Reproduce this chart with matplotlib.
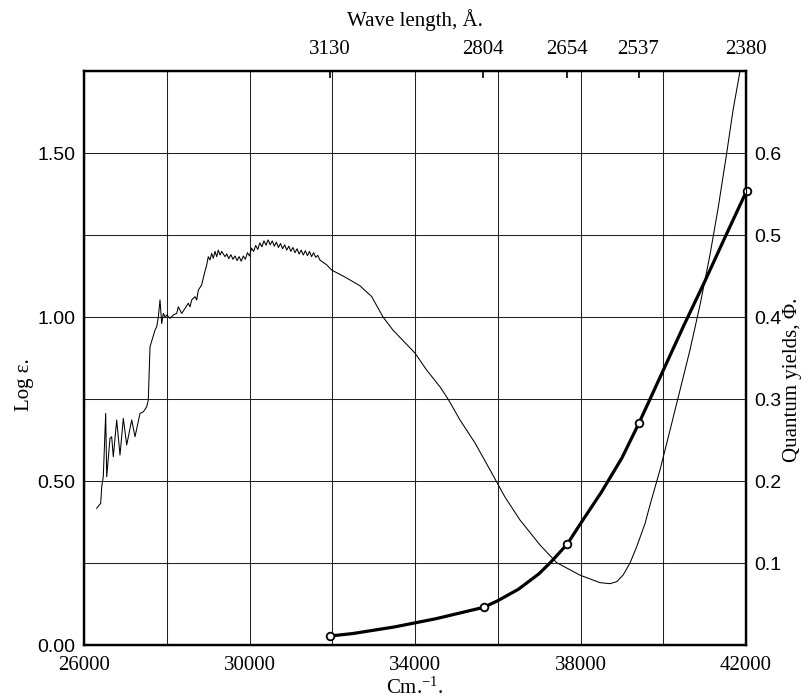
import matplotlib
matplotlib.use("Agg")
import matplotlib.pyplot as plt

plt.rcParams['font.family'] = ['Liberation Serif', 'DejaVu Serif']
plt.rcParams['mathtext.fontset'] = 'custom'
plt.rcParams['mathtext.rm'] = 'Liberation Serif'
plt.rcParams['mathtext.it'] = 'Liberation Serif:italic'

# Absorption spectrum (log epsilon vs wave number, cm^-1)
abs_wn = [26307, 26404, 26428, 26466, 26524, 26549, 26628, 26669, 26708, 26790,
          26870, 26950, 27032, 27153, 27233, 27353, 27433, 27515, 27554,
          27595, 27716, 27757, 27796, 27837, 27878, 27917, 27958, 27999, 28079,
          28158, 28240, 28279, 28361, 28441, 28521, 28562, 28603, 28683, 28724,
          28763, 28845, 28900, 28966, 29004, 29045, 29086, 29125, 29166, 29207,
          29246, 29287, 29328, 29408,
          29450, 29500, 29550, 29600, 29650, 29700, 29750, 29800, 29850, 29900,
          29950, 30000, 30050, 30100, 30150, 30200, 30250, 30300, 30350, 30400,
          30450, 30500, 30550, 30600, 30650, 30700, 30750, 30800, 30850, 30900,
          30950, 31000, 31050, 31100, 31150, 31200, 31250, 31300, 31350, 31400,
          31450, 31500, 31550, 31600, 31650, 31700,
          31866, 31987, 32260, 32429, 32671, 32954, 33227, 33468, 34000, 34283,
          34605, 34798, 35088, 35450, 35813, 36175, 36538, 37021, 37425, 37988,
          38472, 38713, 38875, 39028, 39197, 39359, 39559, 39680, 39922, 40164,
          40405, 40647, 40889, 41130, 41324, 41534, 41686, 41856]
abs_loge = [0.417, 0.432, 0.483, 0.513, 0.706, 0.513, 0.630, 0.635, 0.574, 0.686,
            0.579, 0.691, 0.610, 0.686, 0.635, 0.706, 0.711, 0.726, 0.747,
            0.909, 0.960, 0.970, 1.000, 1.052, 0.980, 1.011, 1.000, 1.006, 0.996,
            1.006, 1.011, 1.031, 1.011, 1.026, 1.042, 1.031, 1.052, 1.062, 1.052,
            1.082, 1.098, 1.128, 1.159, 1.184, 1.174, 1.194, 1.179, 1.200, 1.184,
            1.204, 1.189, 1.200, 1.184,
            1.192, 1.178, 1.190, 1.176, 1.186, 1.172, 1.184, 1.170, 1.186, 1.176,
            1.196, 1.186, 1.210, 1.200, 1.218, 1.206, 1.226, 1.214, 1.232, 1.219,
            1.235, 1.220, 1.232, 1.216, 1.228, 1.212, 1.224, 1.208, 1.220, 1.204,
            1.216, 1.200, 1.212, 1.196, 1.208, 1.192, 1.204, 1.189, 1.202, 1.187,
            1.200, 1.184, 1.196, 1.182, 1.188, 1.174,
            1.159, 1.143, 1.125, 1.113, 1.095, 1.062, 1.000, 0.960, 0.890, 0.838,
            0.787, 0.750, 0.686, 0.616, 0.534, 0.451, 0.381, 0.305, 0.251, 0.213,
            0.190, 0.187, 0.193, 0.213, 0.250, 0.300, 0.370, 0.427, 0.534, 0.655,
            0.777, 0.900, 1.037, 1.190, 1.330, 1.500, 1.630, 1.750]

# Quantum yields at the measured wave lengths
wavelengths = [3130, 2804, 2654, 2537, 2380]
qy_points = [0.011, 0.046, 0.123, 0.271, 0.554]

# Smooth quantum-yield curve as drawn
qy_curve_wn = [31949, 32500, 33000, 33500, 34000, 34500, 35000, 35663, 36000,
               36500, 37000, 37300, 37679, 38000, 38500, 39000, 39417, 40000,
               40500, 41000, 41500, 42017]
qy_curve = [0.011, 0.014, 0.018, 0.022, 0.027, 0.032, 0.038, 0.046, 0.054,
            0.068, 0.087, 0.102, 0.123, 0.148, 0.186, 0.228, 0.271, 0.335,
            0.390, 0.443, 0.498, 0.554]

x_ticks = [26000, 28000, 30000, 32000, 34000, 36000, 38000, 40000, 42000]
x_labels = ['26000', '', '30000', '', '34000', '', '38000', '', '42000']
y_ticks = [0.0, 0.25, 0.5, 0.75, 1.0, 1.25, 1.5]
y_labels = ['0.00', '', '0.50', '', '1.00', '', '1.50']
qy_ticks = [0.1, 0.2, 0.3, 0.4, 0.5, 0.6]
qy_labels = ['0.1', '0.2', '0.3', '0.4', '0.5', '0.6']

fig = plt.figure(figsize=(8.09, 6.98), dpi=100)
ax = fig.add_axes([84/809, 1 - 645/698, (746-84)/809, (645-71)/698])
ax.set_xlim(26000, 42000)
ax.set_ylim(0, 1.75)
ax.set_xticks(x_ticks)
ax.set_xticklabels(x_labels, fontsize=15)
ax.set_yticks(y_ticks)
ax.set_yticklabels(y_labels, fontsize=14, family=['Liberation Sans', 'DejaVu Sans'])
ax.tick_params(axis='x', length=0, pad=8)
ax.tick_params(axis='y', length=0, pad=6)
ax.grid(True, color='#222222', linewidth=0.75)
for s in ax.spines.values():
    s.set_linewidth(1.6)

ax.plot(abs_wn, abs_loge, color='black', linewidth=0.75, zorder=3)

ax2 = ax.twinx()
ax2.set_ylim(0, 0.7)
ax2.set_yticks(qy_ticks)
ax2.set_yticklabels(qy_labels, fontsize=14, family=['Liberation Sans', 'DejaVu Sans'])
ax2.tick_params(axis='y', length=0, pad=6)
for s in ax2.spines.values():
    s.set_linewidth(1.6)
ax2.plot(qy_curve_wn, qy_curve, color='black', linewidth=2.3, zorder=4,
         clip_on=False, solid_joinstyle='round')
pt_wn = [1e8 / w for w in wavelengths]
ax2.plot(pt_wn, qy_points, linestyle='none', marker='o', markersize=5.5,
         markerfacecolor='white', markeredgecolor='black', markeredgewidth=1.3,
         zorder=5, clip_on=False)

ax3 = ax.twiny()
ax3.set_xlim(26000, 42000)
ax3.set_xticks(pt_wn)
ax3.set_xticklabels([str(w) for w in wavelengths], fontsize=15)
ax3.tick_params(axis='x', direction='in', length=5, width=1.2, pad=9)

fig.text(415/809, 1 - 20/698, 'Wave length, Å.', ha='center', va='center', fontsize=15)
fig.text(415/809, 1 - 688/698, r'Cm.$^{-1}$.', ha='center', va='center', fontsize=15)
fig.text(24/809, 1 - 385/698, 'Log ε.', ha='center', va='center', rotation=90, fontsize=15)
fig.text(792/809, 1 - 380/698, 'Quantum yields, Φ.', ha='center', va='center',
         rotation=90, fontsize=15)

fig.savefig('out.png', dpi=100)
